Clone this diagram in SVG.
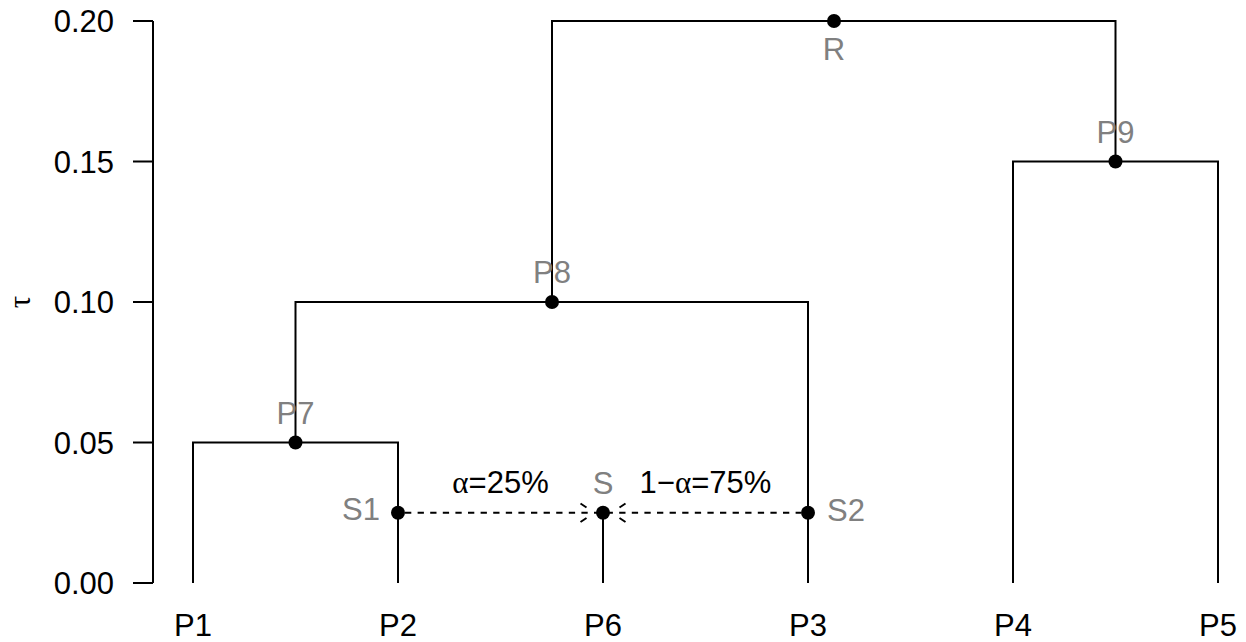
<svg xmlns="http://www.w3.org/2000/svg" width="1246" height="642" viewBox="0 0 1246 642">
<style>
text{font-family:"Liberation Sans",Arial,sans-serif;font-size:31px;fill:#000}
.sym{font-family:"Liberation Serif","Times New Roman",serif}
.g{fill:#808080}
.e{stroke:#000;stroke-width:2;fill:none;stroke-linecap:butt}
.d{stroke:#000;stroke-width:2;fill:none;stroke-dasharray:6.3,6.3}
.dot{fill:#000}
</style>
<rect width="1246" height="642" fill="#fff"/>
<g id="axis">
<path class="e" d="M153,21V583M133,21H153M133,161.5H153M133,302H153M133,442.5H153M133,583H153"/>
<text x="114" y="32" text-anchor="end">0.20</text>
<text x="114" y="172.5" text-anchor="end">0.15</text>
<text x="114" y="313" text-anchor="end">0.10</text>
<text x="114" y="453.5" text-anchor="end">0.05</text>
<text x="114" y="594" text-anchor="end">0.00</text>
<text class="sym" transform="translate(30,302) rotate(-90)" text-anchor="middle">τ</text>
</g>
<g id="connectors">
<path class="e" d="M193,583V442.5H398V583"/>
<path class="e" d="M295.5,442.5V302H808V583"/>
<path class="e" d="M1013,583V161.5H1218V583"/>
<path class="e" d="M552,302V21H1115.5V161.5"/>
<path class="e" d="M603,583V512.75"/>
<path class="d" d="M405,512.75H801"/>
<path class="e" d="M586.5,507.5L580.5,503.5M586.5,518L580.5,522M619.5,507.5L625.5,503.5M619.5,518L625.5,522"/>
</g>
<g id="P1"><text x="193" y="636" text-anchor="middle">P1</text></g>
<g id="P2"><text x="398" y="636" text-anchor="middle">P2</text></g>
<g id="P6"><text x="603" y="636" text-anchor="middle">P6</text></g>
<g id="P3"><text x="808" y="636" text-anchor="middle">P3</text></g>
<g id="P4"><text x="1013" y="636" text-anchor="middle">P4</text></g>
<g id="P5"><text x="1218" y="636" text-anchor="middle">P5</text></g>
<g id="P7"><circle class="dot" cx="295.5" cy="442.5" r="7"/><text class="g" x="295.5" y="423.5" text-anchor="middle">P7</text></g>
<g id="P8"><circle class="dot" cx="552" cy="302" r="7"/><text class="g" x="552" y="283" text-anchor="middle">P8</text></g>
<g id="P9"><circle class="dot" cx="1115.5" cy="161.5" r="7"/><text class="g" x="1115.5" y="142.5" text-anchor="middle">P9</text></g>
<g id="R"><circle class="dot" cx="834" cy="21" r="7"/><text class="g" x="834" y="60" text-anchor="middle">R</text></g>
<g id="S1"><circle class="dot" cx="398" cy="512.75" r="7"/><text class="g" x="380" y="520" text-anchor="end">S1</text></g>
<g id="S2"><circle class="dot" cx="808" cy="512.75" r="7"/><text class="g" x="827" y="521" text-anchor="start">S2</text></g>
<g id="S"><circle class="dot" cx="603" cy="512.75" r="7"/><text class="g" x="603" y="493.5" text-anchor="middle">S</text></g>
<g id="labels">
<text x="500.5" y="493" text-anchor="middle"><tspan class="sym">α</tspan>=25%</text>
<text x="705.5" y="493" text-anchor="middle">1−<tspan class="sym">α</tspan>=75%</text>
</g>
</svg>
